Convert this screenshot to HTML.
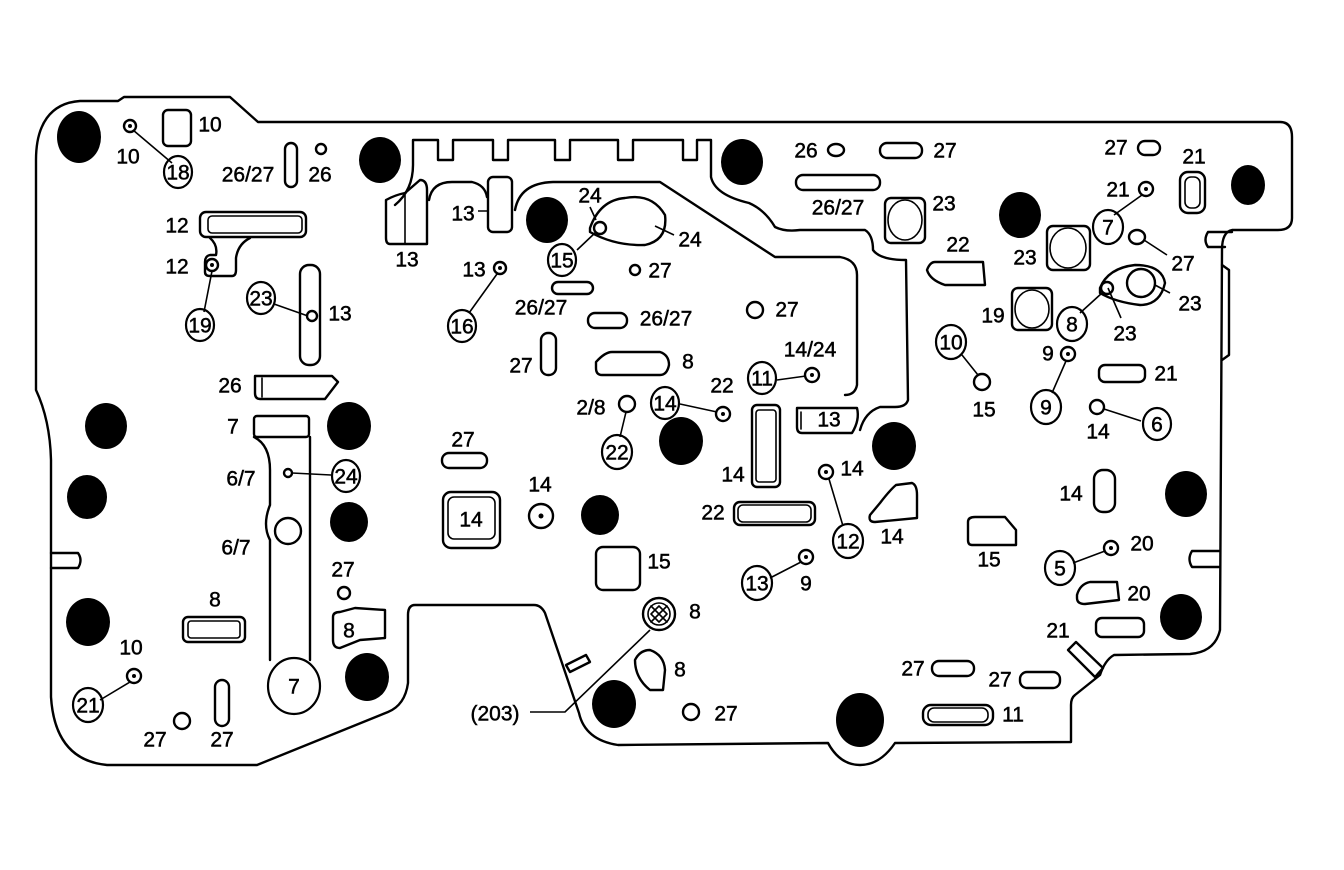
<!DOCTYPE html>
<html><head><meta charset="utf-8"><style>
html,body{margin:0;padding:0;background:#fff;}
svg{display:block}
text{font-family:"Liberation Sans",sans-serif;font-size:21px;text-anchor:middle;dominant-baseline:central;fill:#000;stroke:#000;stroke-width:0.5}
.s{fill:none;stroke:#000;stroke-width:2.4;stroke-linejoin:round;stroke-linecap:round}
.t{fill:none;stroke:#000;stroke-width:1.6}
.d{fill:#000}
</style></head><body>
<svg width="1344" height="870" viewBox="0 0 1344 870">
<path class="s" d="M36,160 C36,125 50,103 80,101 L118,101 L124,97 L230,97 L258,122 L1280,122 Q1292,122 1292,137 L1292,218 Q1292,230 1278,230 L1232,230 Q1222,232 1222,250 L1220,630 Q1215,652 1190,654 L1114,655 Q1105,660 1100,675 L1075,695 Q1071,698 1071,705 L1071,742 L895,743 Q880,765 860,765 Q840,765 828,743 L618,745 Q585,740 579,713 L545,613 Q541,605 534,605 L415,605 Q408,605 408,615 L408,683 Q405,705 388,712 L257,765 L107,765 Q55,760 51,697 L51,460 Q50,420 36,390 Z"/>
<path class="s" d="M1232,232 L1208,232 Q1203,240 1208,247 L1225,247"/>
<path class="s" d="M1222,265 L1229,270 L1229,355 L1222,360"/>
<path class="s" d="M51,553 L78,553 Q83,560 78,568 L51,568"/>
<path class="s" d="M1219,551 L1192,551 Q1187,559 1192,567 L1219,567"/>
<path class="s" d="M395,205 Q413,190 413,165 L413,140 L438,140 L438,160 L453,160 L453,140 L493,140 L493,160 L508,160 L508,140 L555,140 L555,160 L570,160 L570,140 L618,140 L618,160 L633,160 L633,140 L683,140 L683,160 L697,160 L697,140 L711,140 L711,177 Q715,195 749,203 Q765,210 775,227 Q785,232 800,230 L865,230 Q873,235 873,250 Q880,260 906,260 L908,400 Q906,407 895,407 L880,407 Q865,412 860,430"/>
<path class="s" d="M429,200 Q432,182 452,182 L472,182 Q485,185 487,197"/>
<path class="s" d="M515,210 Q520,183 553,182 L660,182 L775,257 L840,257 Q857,260 857,275 L857,385 Q855,395 845,395"/>
<path class="s" d="M386,200 Q395,195 405,193 L420,180 Q427,180 427,190 L427,244 L390,244 Q386,244 386,238 Z"/>
<path class="t" d="M405,195 L405,244"/>
<rect class="s" x="488" y="177" width="24" height="55" rx="5"/>
<g class="d">
<ellipse cx="79" cy="137" rx="22" ry="26"/><ellipse cx="380" cy="160" rx="21" ry="23"/><ellipse cx="742" cy="162" rx="21" ry="23"/>
<ellipse cx="1248" cy="185" rx="17" ry="20"/><ellipse cx="547" cy="220" rx="21" ry="23"/><ellipse cx="1020" cy="215" rx="21" ry="23"/>
<ellipse cx="106" cy="426" rx="21" ry="23"/><ellipse cx="349" cy="426" rx="22" ry="24"/><ellipse cx="87" cy="497" rx="20" ry="22"/>
<ellipse cx="681" cy="441" rx="22" ry="24"/><ellipse cx="894" cy="446" rx="22" ry="24"/><ellipse cx="349" cy="522" rx="19" ry="20"/>
<ellipse cx="600" cy="515" rx="19" ry="20"/><ellipse cx="1186" cy="494" rx="21" ry="23"/><ellipse cx="88" cy="622" rx="22" ry="24"/>
<ellipse cx="1181" cy="617" rx="21" ry="23"/><ellipse cx="367" cy="677" rx="22" ry="24"/><ellipse cx="614" cy="704" rx="22" ry="24"/>
<ellipse cx="860" cy="720" rx="24" ry="27"/>
</g>
<g class="s">
<rect x="163" y="110" width="28" height="36" rx="5"/>
<rect x="285" y="143" width="12" height="44" rx="6"/>
<rect x="200" y="212" width="106" height="25" rx="6"/><rect x="208" y="216" width="94" height="17" rx="4" class="t"/>
<path d="M210,238 Q218,245 216,255 L210,255 Q205,256 205,262 L205,272 Q205,276 210,276 L232,276 Q236,276 236,270 L236,258 Q238,244 250,238"/>
<rect x="300" y="265" width="20" height="100" rx="9"/>
<path d="M255,376 L332,376 L338,382 L325,399 L260,399 Q255,399 255,393 Z"/><path class="t" d="M262,378 L262,397"/>
<rect x="254" y="416" width="55" height="21" rx="3"/>
<path d="M254,437 Q270,445 270,470 L270,505 Q262,525 270,540 L270,660"/>
<path d="M310,437 L310,660"/>
<circle cx="288" cy="531" r="13"/>
<rect x="183" y="617" width="62" height="25" rx="5"/><rect x="188" y="621" width="52" height="17" rx="3" class="t"/>
<path d="M333,617 Q333,612 340,612 L355,608 L385,610 L385,638 L360,640 L340,648 Q333,648 333,640 Z"/>
<rect x="215" y="680" width="14" height="46" rx="7"/>
<rect x="552" y="282" width="41" height="12" rx="6"/>
<rect x="588" y="313" width="39" height="15" rx="7"/>
<rect x="541" y="333" width="15" height="42" rx="7"/>
<path d="M596,362 Q605,352 612,352 L660,352 Q669,355 669,365 Q667,375 660,375 L602,375 Q596,375 596,368 Z"/>
<path d="M590,228 Q600,200 625,198 Q652,193 665,215 Q668,240 645,245 Q615,246 590,232 Z"/>
<rect x="752" y="405" width="28" height="82" rx="5"/><rect x="756" y="410" width="20" height="72" rx="3" class="t"/>
<path d="M797,408 L857,408 Q860,420 852,433 L802,433 Q797,433 797,427 Z"/><path class="t" d="M801,412 L801,429"/>
<rect x="442" y="453" width="45" height="15" rx="7"/>
<rect x="443" y="492" width="57" height="56" rx="8"/><rect x="448" y="497" width="47" height="42" rx="6" class="t"/>
<rect x="596" y="547" width="44" height="43" rx="7"/>
<path d="M635,660 Q640,650 650,650 Q664,655 665,670 L663,690 L650,690 Q635,678 635,660 Z"/>
<path d="M566,665 L586,655 L590,662 L570,672 Z"/>
<rect x="734" y="502" width="81" height="23" rx="6"/><rect x="738" y="505" width="73" height="17" rx="5" class="t"/>
<path d="M880,503 Q890,490 896,485 L912,483 Q917,485 917,495 L917,518 L875,522 Q868,522 870,515 Z"/>
<path d="M968,522 Q968,517 975,517 L1005,517 L1016,530 L1016,545 L972,545 Q968,545 968,540 Z"/>
<ellipse cx="836" cy="150" rx="8" ry="6"/>
<rect x="880" y="143" width="42" height="15" rx="7"/>
<rect x="796" y="175" width="84" height="15" rx="7"/>
<rect x="885" y="198" width="40" height="45" rx="6"/><ellipse cx="905" cy="220" rx="17" ry="20" class="t"/>
<path d="M927,270 Q930,262 935,262 L983,262 L985,285 L945,285 Q930,280 927,270 Z"/>
<rect x="1047" y="226" width="43" height="44" rx="6"/><ellipse cx="1068" cy="248" rx="18" ry="20" class="t"/>
<rect x="1012" y="288" width="40" height="42" rx="6"/><ellipse cx="1032" cy="309" rx="17" ry="19" class="t"/>
<rect x="1138" y="141" width="22" height="14" rx="7"/>
<rect x="1180" y="172" width="25" height="41" rx="8"/><rect x="1185" y="177" width="15" height="31" rx="6" class="t"/>
<ellipse cx="1137" cy="237" rx="8" ry="7"/>
<path d="M1100,288 Q1108,268 1135,265 Q1162,265 1165,283 Q1160,305 1140,305 Q1115,302 1100,293 Z"/>
<circle cx="1141" cy="283" r="14"/>
<rect x="1099" y="365" width="46" height="17" rx="6"/>
<rect x="1094" y="470" width="21" height="42" rx="9"/>
<path d="M1077,595 Q1080,584 1090,582 L1117,582 L1119,600 L1085,604 Q1077,604 1077,598 Z"/>
<rect x="1096" y="618" width="48" height="19" rx="6"/>
<path d="M1068,650 L1076,642 L1103,668 L1095,677 Z"/>
<rect x="932" y="661" width="42" height="15" rx="7"/>
<rect x="1020" y="672" width="40" height="16" rx="7"/>
<rect x="923" y="705" width="70" height="20" rx="8"/><rect x="928" y="708" width="60" height="14" rx="6" class="t"/>
</g>
<g class="s">
<circle cx="130" cy="126" r="6"/><circle cx="321" cy="149" r="5"/><circle cx="212" cy="265" r="6"/><circle cx="312" cy="316" r="5"/>
<circle cx="288" cy="473" r="4"/><circle cx="344" cy="593" r="6"/><circle cx="134" cy="676" r="7"/><circle cx="182" cy="721" r="8"/>
<circle cx="500" cy="268" r="6"/><circle cx="600" cy="228" r="6"/><circle cx="635" cy="270" r="5"/><circle cx="755" cy="310" r="8"/>
<circle cx="812" cy="375" r="7"/><circle cx="723" cy="414" r="7"/><circle cx="627" cy="404" r="8"/><circle cx="541" cy="516" r="12"/>
<circle cx="691" cy="712" r="8"/><circle cx="826" cy="472" r="7"/><circle cx="806" cy="557" r="7"/><circle cx="1146" cy="189" r="7"/>
<circle cx="1107" cy="288" r="6"/><circle cx="982" cy="382" r="8"/><circle cx="1068" cy="354" r="7"/><circle cx="1097" cy="407" r="7"/>
<circle cx="1111" cy="548" r="7"/><circle cx="659" cy="614" r="16"/><circle cx="659" cy="614" r="11" class="t"/>
<path class="t" d="M651,606 L667,622 M651,614 L659,622 M659,606 L667,614 M667,606 L651,622 M659,606 L651,614 M667,614 L659,622"/>
</g>
<g class="d"><circle cx="130" cy="126" r="2"/><circle cx="212" cy="265" r="2"/><circle cx="500" cy="268" r="2"/><circle cx="134" cy="676" r="2"/>
<circle cx="812" cy="375" r="2"/><circle cx="723" cy="414" r="2"/><circle cx="541" cy="516" r="2.5"/><circle cx="826" cy="472" r="2"/>
<circle cx="806" cy="557" r="2"/><circle cx="1146" cy="189" r="2"/><circle cx="1068" cy="354" r="2"/><circle cx="1111" cy="548" r="2"/></g>
<path class="t" d="M133,130 L172,163 M212,271 L204,312 M274,304 L308,316 M292,473 L331,475 M130,682 L100,700 M497,274 L469,313 M596,220 L590,207 M577,250 L596,232 M655,226 L674,235 M806,376 L777,380 M717,412 L680,404 M626,412 L620,437 M650,630 L565,712 L530,712 M829,479 L843,526 M801,562 L770,578 M488,211 L478,211 M1142,195 L1114,215 M1144,240 L1167,255 M1108,288 L1121,318 M1155,285 L1170,293 M1102,293 L1080,313 M962,355 L978,375 M1066,361 L1052,393 M1104,409 L1141,421 M1105,551 L1073,563"/>
<g class="s" style="stroke-width:2.2">
<ellipse cx="178" cy="172" rx="14" ry="16"/><ellipse cx="200" cy="325" rx="14" ry="16"/><ellipse cx="261" cy="298" rx="14" ry="16"/><ellipse cx="346" cy="476" rx="14" ry="16"/>
<ellipse cx="294" cy="686" rx="26" ry="28"/><ellipse cx="88" cy="705" rx="15" ry="17"/><ellipse cx="462" cy="326" rx="14" ry="16"/><ellipse cx="562" cy="260" rx="14" ry="16"/>
<ellipse cx="762" cy="378" rx="14" ry="16"/><ellipse cx="665" cy="403" rx="14" ry="16"/><ellipse cx="617" cy="452" rx="15" ry="17"/><ellipse cx="848" cy="541" rx="15" ry="17"/>
<ellipse cx="757" cy="583" rx="15" ry="17"/><ellipse cx="1108" cy="227" rx="15" ry="17"/><ellipse cx="1072" cy="324" rx="15" ry="17"/><ellipse cx="951" cy="342" rx="15" ry="17"/>
<ellipse cx="1046" cy="407" rx="15" ry="17"/><ellipse cx="1157" cy="424" rx="14" ry="16"/><ellipse cx="1060" cy="568" rx="15" ry="17"/>
</g>
<g>
<text x="178" y="173">18</text><text x="200" y="326">19</text><text x="261" y="299">23</text><text x="346" y="477">24</text>
<text x="294" y="687">7</text><text x="88" y="706">21</text><text x="462" y="327">16</text><text x="562" y="261">15</text>
<text x="762" y="379">11</text><text x="665" y="404">14</text><text x="617" y="453">22</text><text x="848" y="542">12</text>
<text x="757" y="584">13</text><text x="1108" y="228">7</text><text x="1072" y="325">8</text><text x="951" y="343">10</text>
<text x="1046" y="408">9</text><text x="1157" y="425">6</text><text x="1060" y="569">5</text>
<text x="128" y="157">10</text><text x="210" y="125">10</text><text x="248" y="175">26/27</text><text x="320" y="175">26</text>
<text x="177" y="226">12</text><text x="177" y="267">12</text><text x="340" y="314">13</text><text x="230" y="386">26</text>
<text x="233" y="427">7</text><text x="241" y="479">6/7</text><text x="236" y="548">6/7</text><text x="343" y="570">27</text>
<text x="349" y="631">8</text><text x="215" y="600">8</text><text x="131" y="648">10</text><text x="155" y="740">27</text><text x="222" y="740">27</text>
<text x="407" y="260">13</text><text x="463" y="214">13</text><text x="474" y="270">13</text><text x="590" y="196">24</text><text x="690" y="240">24</text>
<text x="660" y="271">27</text><text x="541" y="308">26/27</text><text x="666" y="319">26/27</text><text x="521" y="366">27</text><text x="688" y="362">8</text>
<text x="787" y="310">27</text><text x="810" y="350">14/24</text><text x="722" y="386">22</text><text x="591" y="408">2/8</text>
<text x="733" y="475">14</text><text x="829" y="420">13</text><text x="463" y="440">27</text><text x="471" y="520">14</text><text x="540" y="485">14</text>
<text x="659" y="562">15</text><text x="695" y="612">8</text><text x="680" y="670">8</text><text x="726" y="714">27</text><text x="495" y="714">(203)</text>
<text x="852" y="469">14</text><text x="713" y="513">22</text><text x="892" y="537">14</text><text x="806" y="584">9</text><text x="989" y="560">15</text>
<text x="806" y="151">26</text><text x="945" y="151">27</text><text x="838" y="208">26/27</text><text x="944" y="204">23</text>
<text x="958" y="245">22</text><text x="1025" y="258">23</text><text x="993" y="316">19</text><text x="1116" y="148">27</text><text x="1194" y="157">21</text>
<text x="1118" y="190">21</text><text x="1183" y="264">27</text><text x="1190" y="304">23</text><text x="1125" y="334">23</text>
<text x="984" y="410">15</text><text x="1048" y="354">9</text><text x="1166" y="374">21</text><text x="1098" y="432">14</text>
<text x="1071" y="494">14</text><text x="1142" y="544">20</text><text x="1139" y="594">20</text><text x="1058" y="631">21</text>
<text x="913" y="669">27</text><text x="1000" y="680">27</text><text x="1013" y="715">11</text>
</g>
</svg>
</body></html>
